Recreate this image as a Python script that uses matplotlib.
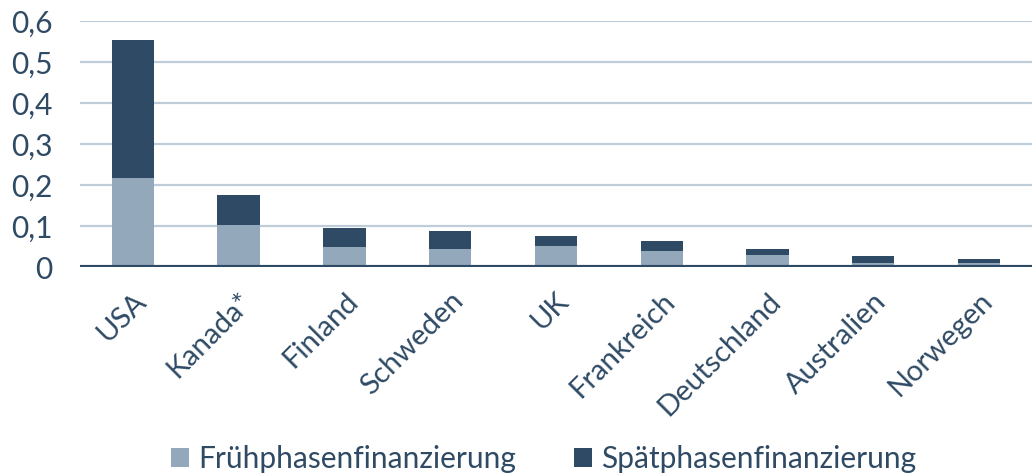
import numpy as np
import matplotlib.pyplot as plt
from matplotlib.ticker import FuncFormatter

# values
laender = ["USA", "Kanada*", "Finland", "Schweden", "UK", "Frankreich",
           "Deutschland", "Australien", "Norwegen"]
fruehphase = [0.217, 0.103, 0.050, 0.045, 0.051, 0.040, 0.030, 0.010, 0.010]
spaetphase = [0.336, 0.073, 0.046, 0.043, 0.025, 0.023, 0.013, 0.018, 0.010]

hell = "#94a8bc"
dunkel = "#2f4a64"
textfarbe = "#2f4a64"

plt.rcParams["font.family"] = ["Lato", "DejaVu Sans"]

fig = plt.figure(figsize=(10.32, 4.73), dpi=100)
ax = fig.add_axes([0.0775, 0.4355, 0.9225, 0.5201])

x = np.arange(len(laender))
ax.bar(x, fruehphase, width=0.4, color=hell, label="Frühphasenfinanzierung", zorder=3)
ax.bar(x, spaetphase, width=0.4, bottom=fruehphase, color=dunkel,
       label="Spätphasenfinanzierung", zorder=3)

ax.set_xlim(-0.5, len(laender) - 0.5)
ax.set_ylim(0, 0.6)
ax.set_yticks(np.arange(0, 0.61, 0.1))
ax.yaxis.set_major_formatter(FuncFormatter(lambda v, p: "0" if v == 0 else f"{v:.1f}".replace(".", ",")))
ax.grid(axis="y", color="#bfcddb", linewidth=1.6, zorder=0)
ax.axhline(0, color=dunkel, linewidth=3, zorder=4)

for s in ax.spines.values():
    s.set_visible(False)
ax.tick_params(axis="both", length=0, colors=textfarbe)
ax.tick_params(axis="y", pad=20, labelsize=21.5)
ax.set_xticks(x)
ax.set_xticklabels(laender, rotation=45, ha="right", rotation_mode="anchor", fontsize=21)
ax.tick_params(axis="x", pad=15)

leg = fig.legend(loc="lower center", bbox_to_anchor=(0.527, -0.032), ncol=2, frameon=False,
                 fontsize=21.5, handlelength=0.6, handleheight=0.6, handletextpad=0.3,
                 columnspacing=1.95, borderpad=0.0)
for t in leg.get_texts():
    t.set_color(textfarbe)

fig.savefig("out.png", dpi=100)
